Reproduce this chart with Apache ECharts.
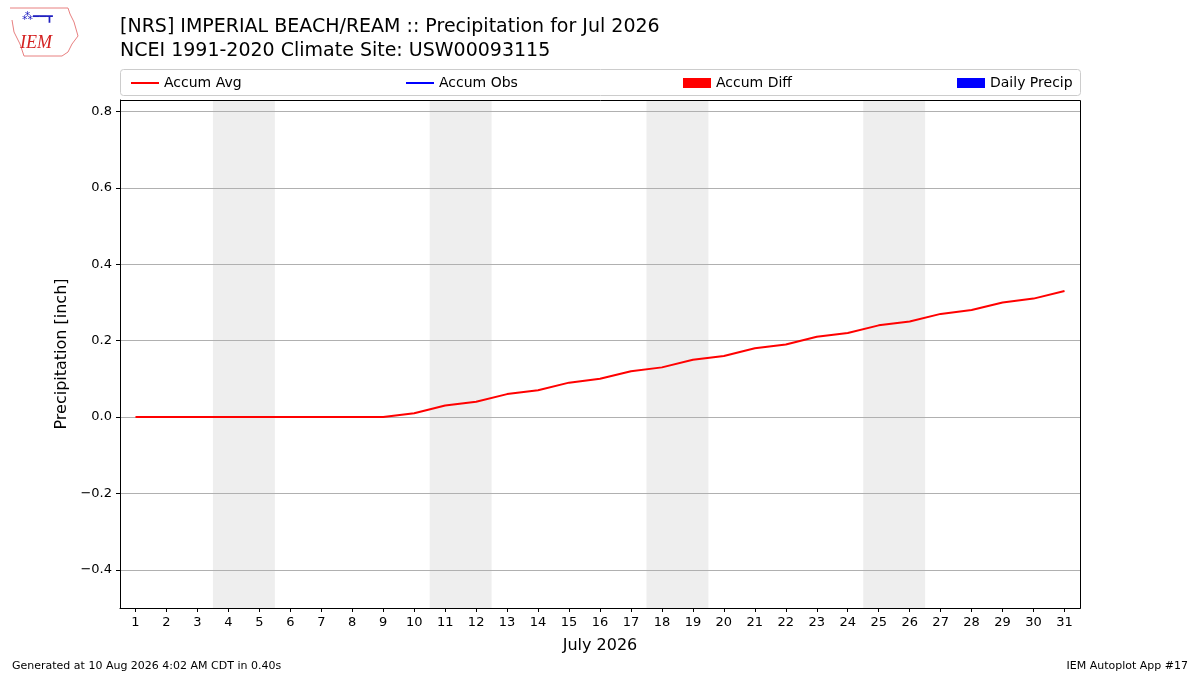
<!DOCTYPE html>
<html>
<head>
<meta charset="utf-8">
<script src="https://cdn.jsdelivr.net/npm/echarts@6/dist/echarts.min.js"></script>
<style>
html, body { margin: 0; padding: 0; background: #fff; }
#main { width: 1200px; height: 675px; }
</style>
</head>
<body>
<div id="main"></div>
<script>
var dom = document.getElementById("main");
var myChart = echarts.init(dom);

// data
var days = [];
for (var d = 1; d <= 31; d++) days.push(d);
var accumAvg = [0, 0, 0, 0, 0, 0, 0, 0, 0, 0.01, 0.03, 0.04, 0.06, 0.07, 0.09, 0.10,
    0.12, 0.13, 0.15, 0.16, 0.18, 0.19, 0.21, 0.22, 0.24, 0.25, 0.27, 0.28, 0.30, 0.31, 0.33];
var weekends = [[3.5, 5.5], [10.5, 12.5], [17.5, 19.5], [24.5, 26.5]];
var yTicks = [-0.4, -0.2, 0, 0.2, 0.4, 0.6, 0.8];

var fontFam = "DejaVu Sans";
var avgData = days.map(function (d, i) { return [d, accumAvg[i]]; });
var shade = weekends.map(function (w) { return [{ xAxis: w[0] }, { xAxis: w[1] }]; });
var grid = yTicks.map(function (v) { return { yAxis: v }; });

function fmtY(v) {
    return v < 0 ? "\u2212" + Math.abs(v).toFixed(1) : v.toFixed(1);
}

var legendBase = {
    top: 71,
    itemWidth: 28,
    itemHeight: 13,
    itemGap: 10,
    textStyle: { fontFamily: fontFam, fontSize: 14, color: "#000" }
};

var option = {
    backgroundColor: "#fff",
    animation: false,
    textStyle: { fontFamily: fontFam },
    title: [
        {
            text: "[NRS] IMPERIAL BEACH/REAM :: Precipitation for Jul 2026\nNCEI 1991-2020 Climate Site: USW00093115",
            left: 115, top: 10,
            textStyle: { fontFamily: fontFam, fontSize: 19, fontWeight: "normal", color: "#000", lineHeight: 24 }
        },
        {
            text: "Generated at 10 Aug 2026 4:02 AM CDT in 0.40s",
            left: 7, top: 656,
            textStyle: { fontFamily: fontFam, fontSize: 11, fontWeight: "normal", color: "#000" }
        },
        {
            text: "IEM Autoplot App #17",
            right: 7, top: 656,
            textStyle: { fontFamily: fontFam, fontSize: 11, fontWeight: "normal", color: "#000" }
        }
    ],
    legend: [
        Object.assign({ left: 126, data: [{ name: "Accum Avg", icon: "path://M0,6 L28,6 L28,8 L0,8 Z" }] }, legendBase),
        Object.assign({ left: 401, data: [{ name: "Accum Obs", icon: "path://M0,6 L28,6 L28,8 L0,8 Z" }] }, legendBase),
        Object.assign({ left: 678, data: [{ name: "Accum Diff", icon: "rect" }] }, legendBase, { itemHeight: 10 }),
        Object.assign({ left: 952, data: [{ name: "Daily Precip", icon: "rect" }] }, legendBase, { itemHeight: 10 })
    ],
    grid: {
        left: 120, right: 120, top: 100, bottom: 67,
        show: false,
        containLabel: false
    },
    xAxis: {
        type: "value",
        min: 0.5, max: 31.5,
        z: 10,
        name: "July 2026",
        nameLocation: "middle",
        nameGap: 30,
        nameTextStyle: { fontFamily: fontFam, fontSize: 16, color: "#000" },
        axisLine: { show: true, onZero: false, lineStyle: { color: "#000" } },
        axisTick: { show: true, length: 4, lineStyle: { color: "#000" }, customValues: days },
        axisLabel: { color: "#000", fontSize: 13, fontFamily: fontFam, margin: 8, customValues: days },
        splitLine: { show: false }
    },
    yAxis: {
        type: "value",
        min: -0.5, max: 0.83,
        z: 10,
        name: "Precipitation [inch]",
        nameLocation: "middle",
        nameGap: 50,
        nameTextStyle: { fontFamily: fontFam, fontSize: 16, color: "#000" },
        axisLine: { show: true, onZero: false, lineStyle: { color: "#000" } },
        axisTick: { show: true, length: 4, lineStyle: { color: "#000" }, customValues: yTicks },
        axisLabel: { color: "#000", fontSize: 13, fontFamily: fontFam, margin: 8, customValues: yTicks, formatter: fmtY },
        splitLine: { show: false }
    },
    graphic: [
        {
            type: "rect",
            shape: { x: 120.5, y: 69.5, width: 960, height: 26, r: 3 },
            style: { fill: "rgba(255,255,255,0.8)", stroke: "#cccccc", lineWidth: 1 },
            z: -1
        },
        {
            type: "rect",
            shape: { x: 120.5, y: 100.5, width: 960, height: 508 },
            style: { fill: "none", stroke: "#000", lineWidth: 1 },
            z: 100
        },
        {
            type: "polyline",
            shape: { points: [[10, 8], [68, 8], [70, 14], [74, 22], [78, 36], [72, 44], [68, 52], [62, 56], [24, 56], [20, 44], [14, 32], [12, 20]] },
            style: { stroke: "#e88080", fill: "none", lineWidth: 1 }
        },
        {
            type: "text",
            left: 20, top: 34,
            style: { text: "IEM", fill: "#d42020", font: "italic 18px 'Liberation Serif'" }
        },
        {
            type: "text",
            left: 22, top: 12,
            style: { text: "⁂━━┳", fill: "#2020c0", font: "11px 'DejaVu Sans'" }
        }
    ],
    series: [
        {
            name: "Accum Avg",
            type: "line",
            data: avgData,
            showSymbol: false,
            lineStyle: { color: "#ff0000", width: 2 },
            itemStyle: { color: "#ff0000" },
            z: 5,
            markArea: {
                silent: true,
                itemStyle: { color: "#eeeeee" },
                data: shade,
                z: 1
            },
            markLine: {
                silent: true,
                symbol: "none",
                label: { show: false },
                lineStyle: { color: "#b0b0b0", width: 1, type: "solid" },
                data: grid
            }
        },
        { name: "Accum Obs", type: "line", data: [], itemStyle: { color: "#0000ff" }, lineStyle: { color: "#0000ff" } },
        { name: "Accum Diff", type: "bar", data: [], itemStyle: { color: "#ff0000" } },
        { name: "Daily Precip", type: "bar", data: [], itemStyle: { color: "#0000ff" } }
    ]
};
myChart.setOption(option);
</script>
</body>
</html>
